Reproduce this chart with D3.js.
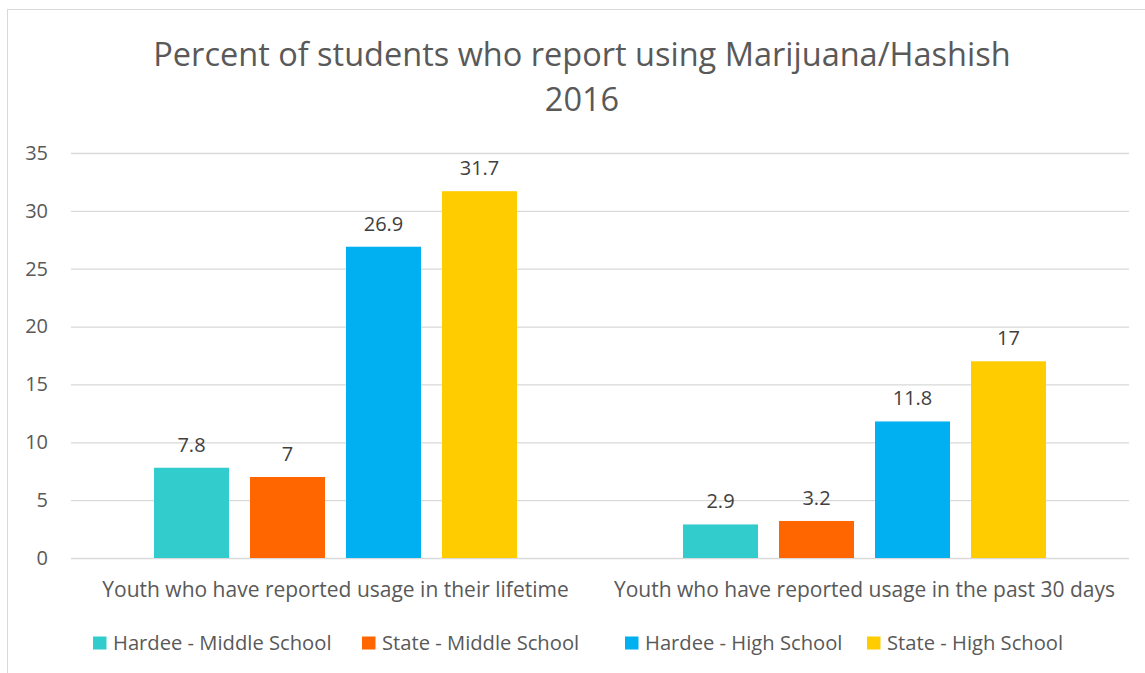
<!DOCTYPE html>
<html>
<head>
<meta charset="utf-8">
<script src="https://cdn.jsdelivr.net/npm/d3@7"></script>
<style>
  html, body { margin: 0; padding: 0; background: #fff; }
  svg { display: block; font-family: "Open Sans", "DejaVu Sans", sans-serif; }
</style>
</head>
<body>
<svg id="chart" width="1145" height="673"></svg>
<script>
// Survey data: percent of students reporting marijuana/hashish use, 2016
const titleLines = ["Percent of students who report using Marijuana/Hashish", "2016"];
const categories = [
  "Youth who have reported usage in their lifetime",
  "Youth who have reported usage in the past 30 days"
];
const seriesNames = [
  "Hardee - Middle School",
  "State - Middle School",
  "Hardee - High School",
  "State - High School"
];
const seriesValues = [
  [7.8, 2.9],   // Hardee - Middle School
  [7, 3.2],     // State - Middle School
  [26.9, 11.8], // Hardee - High School
  [31.7, 17]    // State - High School
];
const yTicks = [0, 5, 10, 15, 20, 25, 30, 35];
const seriesColors = ["#33CCCC", "#FF6600", "#00B0F0", "#FFCC00"];

const svg = d3.select("#chart");
const textColor = "#595959";

// Outer chart frame
svg.append("rect")
  .attr("x", 7.5).attr("y", 9.5)
  .attr("width", 1160).attr("height", 690)
  .attr("fill", "#fff").attr("stroke", "#D9D9D9").attr("stroke-width", 1);

// Title
svg.append("text")
  .attr("text-anchor", "middle")
  .attr("fill", textColor)
  .style("font-size", "32.5px")
  .selectAll("tspan")
  .data(titleLines)
  .join("tspan")
  .attr("x", 582)
  .attr("y", (d, i) => 66 + i * 45)
  .text(d => d);

const plot = { left: 71, right: 1129, top: 153, bottom: 558 };

const x0 = d3.scaleBand()
  .domain(categories)
  .range([plot.left, plot.right])
  .padding(0);

const x1 = d3.scaleBand()
  .domain(d3.range(seriesNames.length))
  .range([0, x0.bandwidth()])
  .paddingInner(0.21875)
  .paddingOuter(0.8646);

const y = d3.scaleLinear()
  .domain([0, 35])
  .range([plot.bottom, plot.top]);

// Horizontal gridlines and tick labels
const yAxis = d3.axisLeft(y)
  .tickValues(yTicks)
  .tickSize(-(plot.right - plot.left));

const gy = svg.append("g")
  .attr("transform", `translate(${plot.left},0)`)
  .call(yAxis);
gy.select(".domain").remove();
gy.selectAll(".tick line").attr("stroke", "#D9D9D9").attr("stroke-width", 1.3);
gy.selectAll(".tick text")
  .attr("x", -23)
  .attr("text-anchor", "end")
  .attr("fill", textColor)
  .style("font-size", "20px")
  .style("font-family", "'Open Sans', sans-serif");

// Bars
const rows = [];
categories.forEach((c, ci) => {
  seriesNames.forEach((s, si) => {
    rows.push({ cat: c, si, value: seriesValues[si][ci] });
  });
});

svg.append("g")
  .selectAll("rect")
  .data(rows)
  .join("rect")
  .attr("x", d => x0(d.cat) + x1(d.si))
  .attr("y", d => y(d.value))
  .attr("width", x1.bandwidth())
  .attr("height", d => y(0) - y(d.value))
  .attr("fill", d => seriesColors[d.si]);

// Value labels
svg.append("g")
  .selectAll("text")
  .data(rows)
  .join("text")
  .attr("x", d => x0(d.cat) + x1(d.si) + x1.bandwidth() / 2)
  .attr("y", d => y(d.value) - 16)
  .attr("text-anchor", "middle")
  .attr("fill", "#404040")
  .style("font-size", "20px")
  .text(d => String(d.value));

// Category labels
const xAxis = d3.axisBottom(x0).tickSize(0).tickPadding(0);
const gx = svg.append("g")
  .attr("transform", `translate(0,${plot.bottom})`)
  .call(xAxis);
gx.select(".domain").remove();
gx.selectAll(".tick text")
  .attr("dy", 0)
  .attr("y", 39)
  .attr("fill", textColor)
  .style("font-size", "21px")
  .style("font-family", "'Open Sans', sans-serif");

// Legend
const legendX = [93, 362, 625, 867];
const legend = svg.append("g")
  .selectAll("g")
  .data(seriesNames)
  .join("g")
  .attr("transform", (d, i) => `translate(${legendX[i]},0)`);
legend.append("rect")
  .attr("x", 0).attr("y", 636.5)
  .attr("width", 13.5).attr("height", 13)
  .attr("fill", (d, i) => seriesColors[i]);
legend.append("text")
  .attr("x", 20).attr("y", 650)
  .attr("fill", textColor)
  .style("font-size", "20.2px")
  .text(d => d);
</script>
</body>
</html>
